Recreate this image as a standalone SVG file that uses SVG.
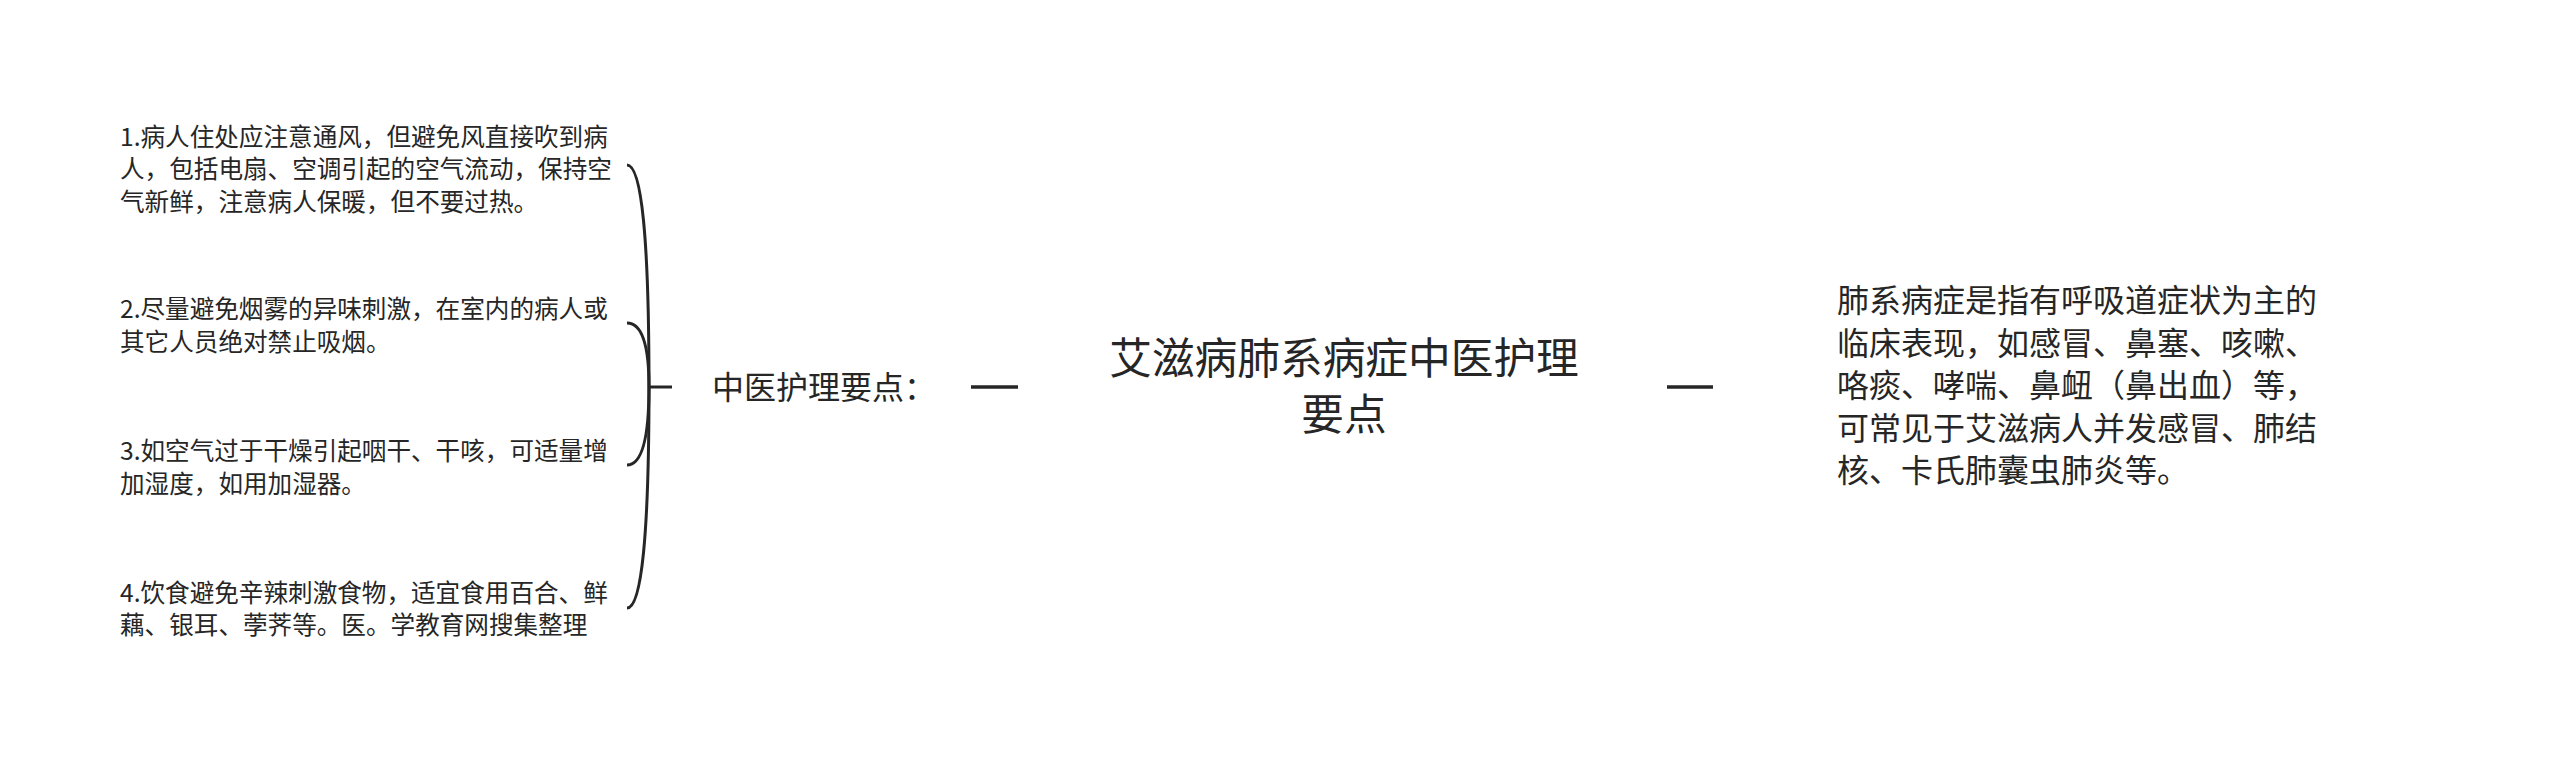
<svg xmlns="http://www.w3.org/2000/svg" width="2560" height="758" viewBox="0 0 2560 758">
<style>
  text { font-family: "Noto Sans CJK SC", "Noto Sans", sans-serif; fill: #262626; }
  .item { font-size: 24.6px; }
  .mid { font-size: 32px; }
  .title { font-size: 42.7px; }
  .conn { fill: none; stroke: #262626; stroke-width: 3; stroke-linecap: butt; }
  .dash { fill: none; stroke: #262626; stroke-width: 3.6; }
</style>
<rect x="0" y="0" width="2560" height="758" fill="#ffffff"/>
<g id="connectors">
  <path class="conn" d="M 627 165 Q 649 165 649 387"/>
  <path class="conn" d="M 627 323 Q 649 323 649 387"/>
  <path class="conn" d="M 627 465 Q 649 465 649 387"/>
  <path class="conn" d="M 627 608 Q 649 608 649 387"/>
  <path class="conn" d="M 649 387 L 672 387"/>
  <path class="dash" d="M 971 387 L 1018 387"/>
  <path class="dash" d="M 1667 387 L 1713 387"/>
</g>
<g id="root">
  <text class="title" x="1344" y="374" text-anchor="middle">艾滋病肺系病症中医护理</text>
  <text class="title" x="1344" y="430" text-anchor="middle">要点</text>
</g>
<g id="branch-tcm">
  <text class="mid" x="712" y="399">中医护理要点：</text>
</g>
<g id="item1">
  <text class="item" x="120" y="145.5">1.病人住处应注意通风，但避免风直接吹到病</text>
  <text class="item" x="120" y="178">人，包括电扇、空调引起的空气流动，保持空</text>
  <text class="item" x="120" y="210.5">气新鲜，注意病人保暖，但不要过热。</text>
</g>
<g id="item2">
  <text class="item" x="120" y="318">2.尽量避免烟雾的异味刺激，在室内的病人或</text>
  <text class="item" x="120" y="350.5">其它人员绝对禁止吸烟。</text>
</g>
<g id="item3">
  <text class="item" x="120" y="460">3.如空气过于干燥引起咽干、干咳，可适量增</text>
  <text class="item" x="120" y="492.5">加湿度，如用加湿器。</text>
</g>
<g id="item4">
  <text class="item" x="120" y="601.5">4.饮食避免辛辣刺激食物，适宜食用百合、鲜</text>
  <text class="item" x="120" y="634">藕、银耳、荸荠等。医。学教育网搜集整理</text>
</g>
<g id="branch-desc">
  <text class="mid" x="1837" y="312">肺系病症是指有呼吸道症状为主的</text>
  <text class="mid" x="1837" y="354.5">临床表现，如感冒、鼻塞、咳嗽、</text>
  <text class="mid" x="1837" y="397">咯痰、哮喘、鼻衄（鼻出血）等，</text>
  <text class="mid" x="1837" y="439.5">可常见于艾滋病人并发感冒、肺结</text>
  <text class="mid" x="1837" y="482">核、卡氏肺囊虫肺炎等。</text>
</g>
</svg>
